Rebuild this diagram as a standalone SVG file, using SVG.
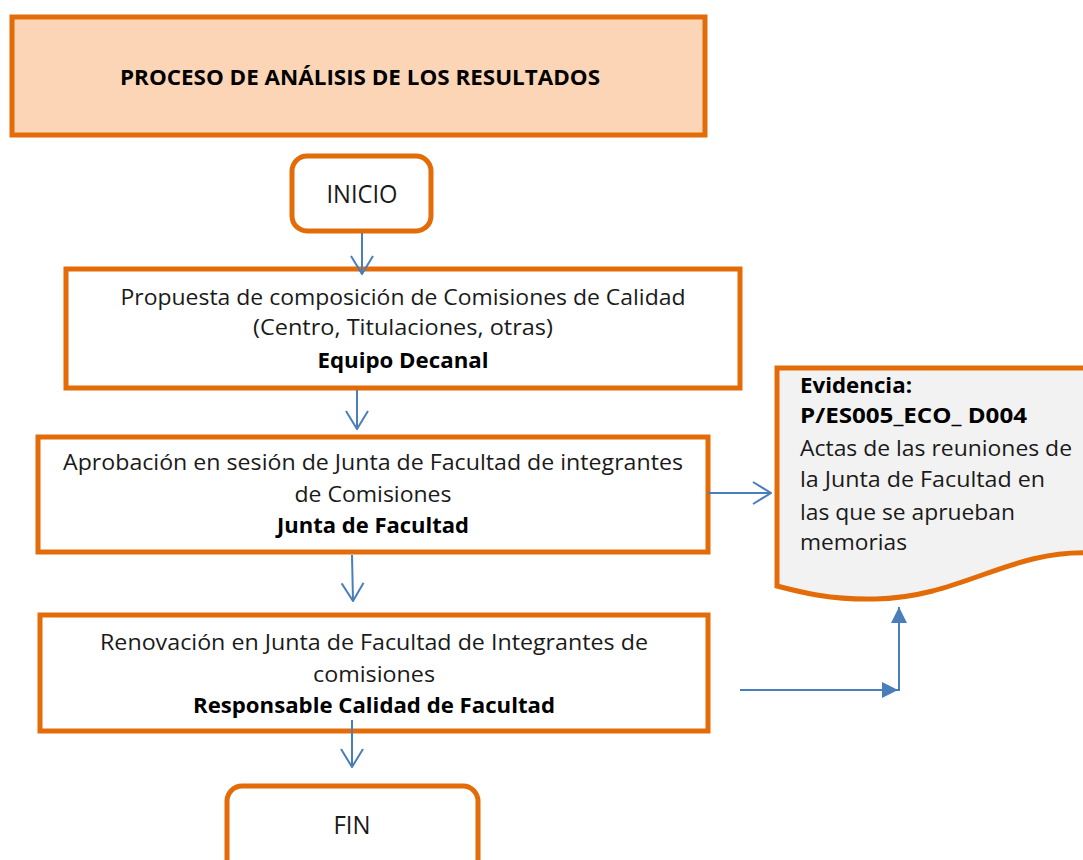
<svg xmlns="http://www.w3.org/2000/svg" width="1083" height="860" viewBox="0 0 1083 860">
<style>
.box{fill:#ffffff;stroke:#E36C09;stroke-width:5}
.title{fill:#FBD5B5;stroke:#E36C09;stroke-width:5}
.doc{fill:#F2F2F2;stroke:#E36C09;stroke-width:5}
.t{font-family:"Open Sans","Liberation Sans",sans-serif;font-size:21px;fill:#1a1a1a}
.big{font-size:25px}
.b{font-weight:bold;fill:#000}
.c{text-anchor:middle}
.conn{stroke:#4A7EBB;stroke-width:2;fill:none}
</style>
<defs>
<marker id="open" viewBox="0 0 20 24" refX="19" refY="12" markerWidth="20" markerHeight="24" markerUnits="userSpaceOnUse" orient="auto">
<path d="M1,1 L19,12 L1,23" fill="none" stroke="#4A7EBB" stroke-width="2"/>
</marker>
<marker id="fill" viewBox="0 0 16 16" refX="16" refY="8" markerWidth="16" markerHeight="16" markerUnits="userSpaceOnUse" orient="auto">
<path d="M0,0 L16,8 L0,16 Z" fill="#4A7EBB"/>
</marker>
</defs>

<g id="title">
<rect class="title" x="12" y="17" width="693" height="118"/>
<text class="t b c" x="360" y="85" textLength="480" lengthAdjust="spacingAndGlyphs">PROCESO DE ANÁLISIS DE LOS RESULTADOS</text>
</g>

<g id="inicio">
<rect class="box" x="292" y="156" width="139" height="75" rx="15"/>
<text class="t big c" x="362" y="203" textLength="71" lengthAdjust="spacingAndGlyphs">INICIO</text>
</g>

<g id="propuesta">
<rect class="box" x="66" y="269" width="674" height="119"/>
<text class="t c" x="403" y="305" textLength="565" lengthAdjust="spacingAndGlyphs">Propuesta de composición de Comisiones de Calidad</text>
<text class="t c" x="403" y="335" textLength="300" lengthAdjust="spacingAndGlyphs">(Centro, Titulaciones, otras)</text>
<text class="t b c" x="403" y="368" textLength="171" lengthAdjust="spacingAndGlyphs">Equipo Decanal</text>
</g>

<g id="aprobacion">
<rect class="box" x="38" y="437" width="670" height="115"/>
<text class="t c" x="373" y="470" textLength="620" lengthAdjust="spacingAndGlyphs">Aprobación en sesión de Junta de Facultad de integrantes</text>
<text class="t c" x="373" y="502" textLength="157" lengthAdjust="spacingAndGlyphs">de Comisiones</text>
<text class="t b c" x="373" y="533" textLength="192" lengthAdjust="spacingAndGlyphs">Junta de Facultad</text>
</g>

<g id="renovacion">
<rect class="box" x="40" y="615" width="668" height="116"/>
<text class="t c" x="374" y="650" textLength="548" lengthAdjust="spacingAndGlyphs">Renovación en Junta de Facultad de Integrantes de</text>
<text class="t c" x="374" y="682" textLength="122" lengthAdjust="spacingAndGlyphs">comisiones</text>
<text class="t b c" x="374" y="713" textLength="362" lengthAdjust="spacingAndGlyphs">Responsable Calidad de Facultad</text>
</g>

<g id="fin">
<rect class="box" x="227" y="786" width="251" height="100" rx="15"/>
<text class="t big c" x="352" y="834" textLength="37" lengthAdjust="spacingAndGlyphs">FIN</text>
</g>

<g id="evidencia">
<path class="doc" d="M777,368 H1092 V553 C1010,549 960,598 875,599 C830,600 800,592 777,586 Z"/>
<text class="t b" x="800" y="393" textLength="112" lengthAdjust="spacingAndGlyphs">Evidencia:</text>
<text class="t b" x="800" y="423" textLength="227" lengthAdjust="spacingAndGlyphs">P/ES005_ECO_ D004</text>
<text class="t" x="800" y="456" textLength="272" lengthAdjust="spacingAndGlyphs">Actas de las reuniones de</text>
<text class="t" x="800" y="487" textLength="245" lengthAdjust="spacingAndGlyphs">la Junta de Facultad en</text>
<text class="t" x="800" y="520" textLength="215" lengthAdjust="spacingAndGlyphs">las que se aprueban</text>
<text class="t" x="800" y="550" textLength="107" lengthAdjust="spacingAndGlyphs">memorias</text>
</g>

<g id="connectors">
<line class="conn" x1="362" y1="233" x2="362" y2="274" marker-end="url(#open)"/>
<line class="conn" x1="357" y1="390" x2="357" y2="429" marker-end="url(#open)"/>
<line class="conn" x1="352" y1="555" x2="353" y2="601" marker-end="url(#open)"/>
<line class="conn" x1="352" y1="720" x2="352" y2="767" marker-end="url(#open)"/>
<line class="conn" x1="708" y1="493" x2="771" y2="493" marker-end="url(#open)"/>
<line class="conn" x1="740" y1="690" x2="898" y2="690" marker-end="url(#fill)"/>
<line class="conn" x1="899" y1="691" x2="899" y2="607" marker-end="url(#fill)"/>
</g>
</svg>
